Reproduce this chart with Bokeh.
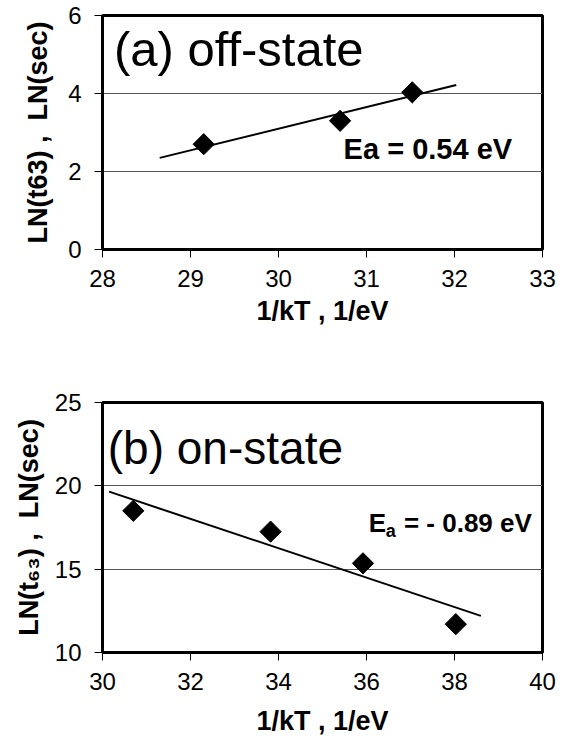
import numpy as np
from bokeh.plotting import figure
from bokeh.layouts import column
from bokeh.models import Label, SingleIntervalTicker, Range1d
from bokeh.embed import file_html
from bokeh.resources import INLINE

# ---- data panel (a) off-state ----
a_x = [29.15, 30.70, 31.52]
a_y = [2.70, 3.30, 4.03]
a_fit_x = [28.65, 32.02]
a_fit_y = [2.35, 4.22]
a_xticks_interval = 1
a_yticks_interval = 2

# ---- data panel (b) on-state ----
b_x = [30.70, 33.82, 35.92, 38.03]
b_y = [18.50, 17.25, 15.35, 11.70]
b_fit_x = [30.15, 38.60]
b_fit_y = [19.65, 12.20]
b_xticks_interval = 2
b_yticks_interval = 5

FONT = "Liberation Sans"
NB = "\u00a0"


def make_fig(xr, yr, xint, yint, h, borders, ylabel):
    l, r, t, b = borders
    p = figure(width=577, height=h, output_backend="svg", toolbar_location=None,
               x_range=Range1d(*xr), y_range=Range1d(*yr),
               min_border_left=l, min_border_right=r, min_border_top=t, min_border_bottom=b)
    p.background_fill_color = "white"
    p.border_fill_color = "white"
    p.outline_line_color = "black"
    p.outline_line_width = 3
    p.xgrid.grid_line_color = None
    p.ygrid.grid_line_color = "#555555"
    p.ygrid.grid_line_width = 1
    p.xaxis.ticker = SingleIntervalTicker(interval=xint)
    p.yaxis.ticker = SingleIntervalTicker(interval=yint)
    for ax in (p.xaxis, p.yaxis):
        ax.axis_line_color = "black"
        ax.axis_line_width = 3
        ax.major_tick_in = 0
        ax.major_tick_out = 8
        ax.major_tick_line_color = "black"
        ax.major_tick_line_width = 1
        ax.minor_tick_line_color = None
        ax.major_label_text_font = FONT
        ax.major_label_text_font_size = "24px"
        ax.major_label_text_color = "black"
        ax.axis_label_text_font = FONT
        ax.axis_label_text_font_style = "bold"
        ax.axis_label_text_font_size = "27px"
        ax.axis_label_text_color = "black"
    p.xaxis.major_label_standoff = 12
    p.yaxis.major_label_standoff = 13
    p.xaxis.axis_label = "1/kT , 1/eV"
    p.xaxis.axis_label_standoff = 6
    p.yaxis.axis_label = ylabel
    p.yaxis.axis_label_standoff = 12
    return p


pa = make_fig((28, 33), (0, 6), a_xticks_interval, a_yticks_interval, 372,
              (99, 35, 15, 123), "LN(t63)" + NB + "," + NB * 2 + "LN(sec)")
pa.line(a_fit_x, a_fit_y, line_color="black", line_width=2)
pa.scatter(a_x, a_y, marker="square", size=15, angle=np.pi / 4,
           fill_color="black", line_color="black")
pa.add_layout(Label(x=28.13, y=5.15, text="(a) off-state", text_font=FONT,
                    text_font_size="49px", text_color="black", text_baseline="alphabetic"))
pa.add_layout(Label(x=30.74, y=2.57, text="Ea = 0.54 eV", text_font=FONT,
                    text_font_size="29px", text_font_style="bold", text_color="black",
                    text_baseline="middle"))

pb = make_fig((30, 40), (10, 25), b_xticks_interval, b_yticks_interval, 372,
              (102, 31, 30, 92), "LN(t\u2086\u2083)" + NB + "," + NB * 2 + "LN(sec)")
pb.yaxis.axis_label_standoff = 8
pb.xaxis.axis_label_standoff = 13
pb.line(b_fit_x, b_fit_y, line_color="black", line_width=2)
pb.scatter(b_x, b_y, marker="square", size=15, angle=np.pi / 4,
           fill_color="black", line_color="black")
pb.add_layout(Label(x=30.12, y=22.30, text="(b) on-state", text_font=FONT,
                    text_font_size="46px", text_color="black", text_baseline="alphabetic"))
pb.add_layout(Label(x=36.05, y=17.75, text="E", text_font=FONT,
                    text_font_size="26px", text_font_style="bold", text_color="black",
                    text_baseline="middle"))
pb.add_layout(Label(x=36.05, y=17.75, x_offset=17, y_offset=-8, text="a", text_font=FONT,
                    text_font_size="18px", text_font_style="bold", text_color="black",
                    text_baseline="middle"))
pb.add_layout(Label(x=36.05, y=17.75, x_offset=28, text=NB + "=" + NB + "-" + NB + "0.89" + NB + "eV",
                    text_font=FONT, text_font_size="26px", text_font_style="bold",
                    text_color="black", text_baseline="middle"))

layout = column(pa, pb)
open("out.html", "w").write(file_html(layout, INLINE))
